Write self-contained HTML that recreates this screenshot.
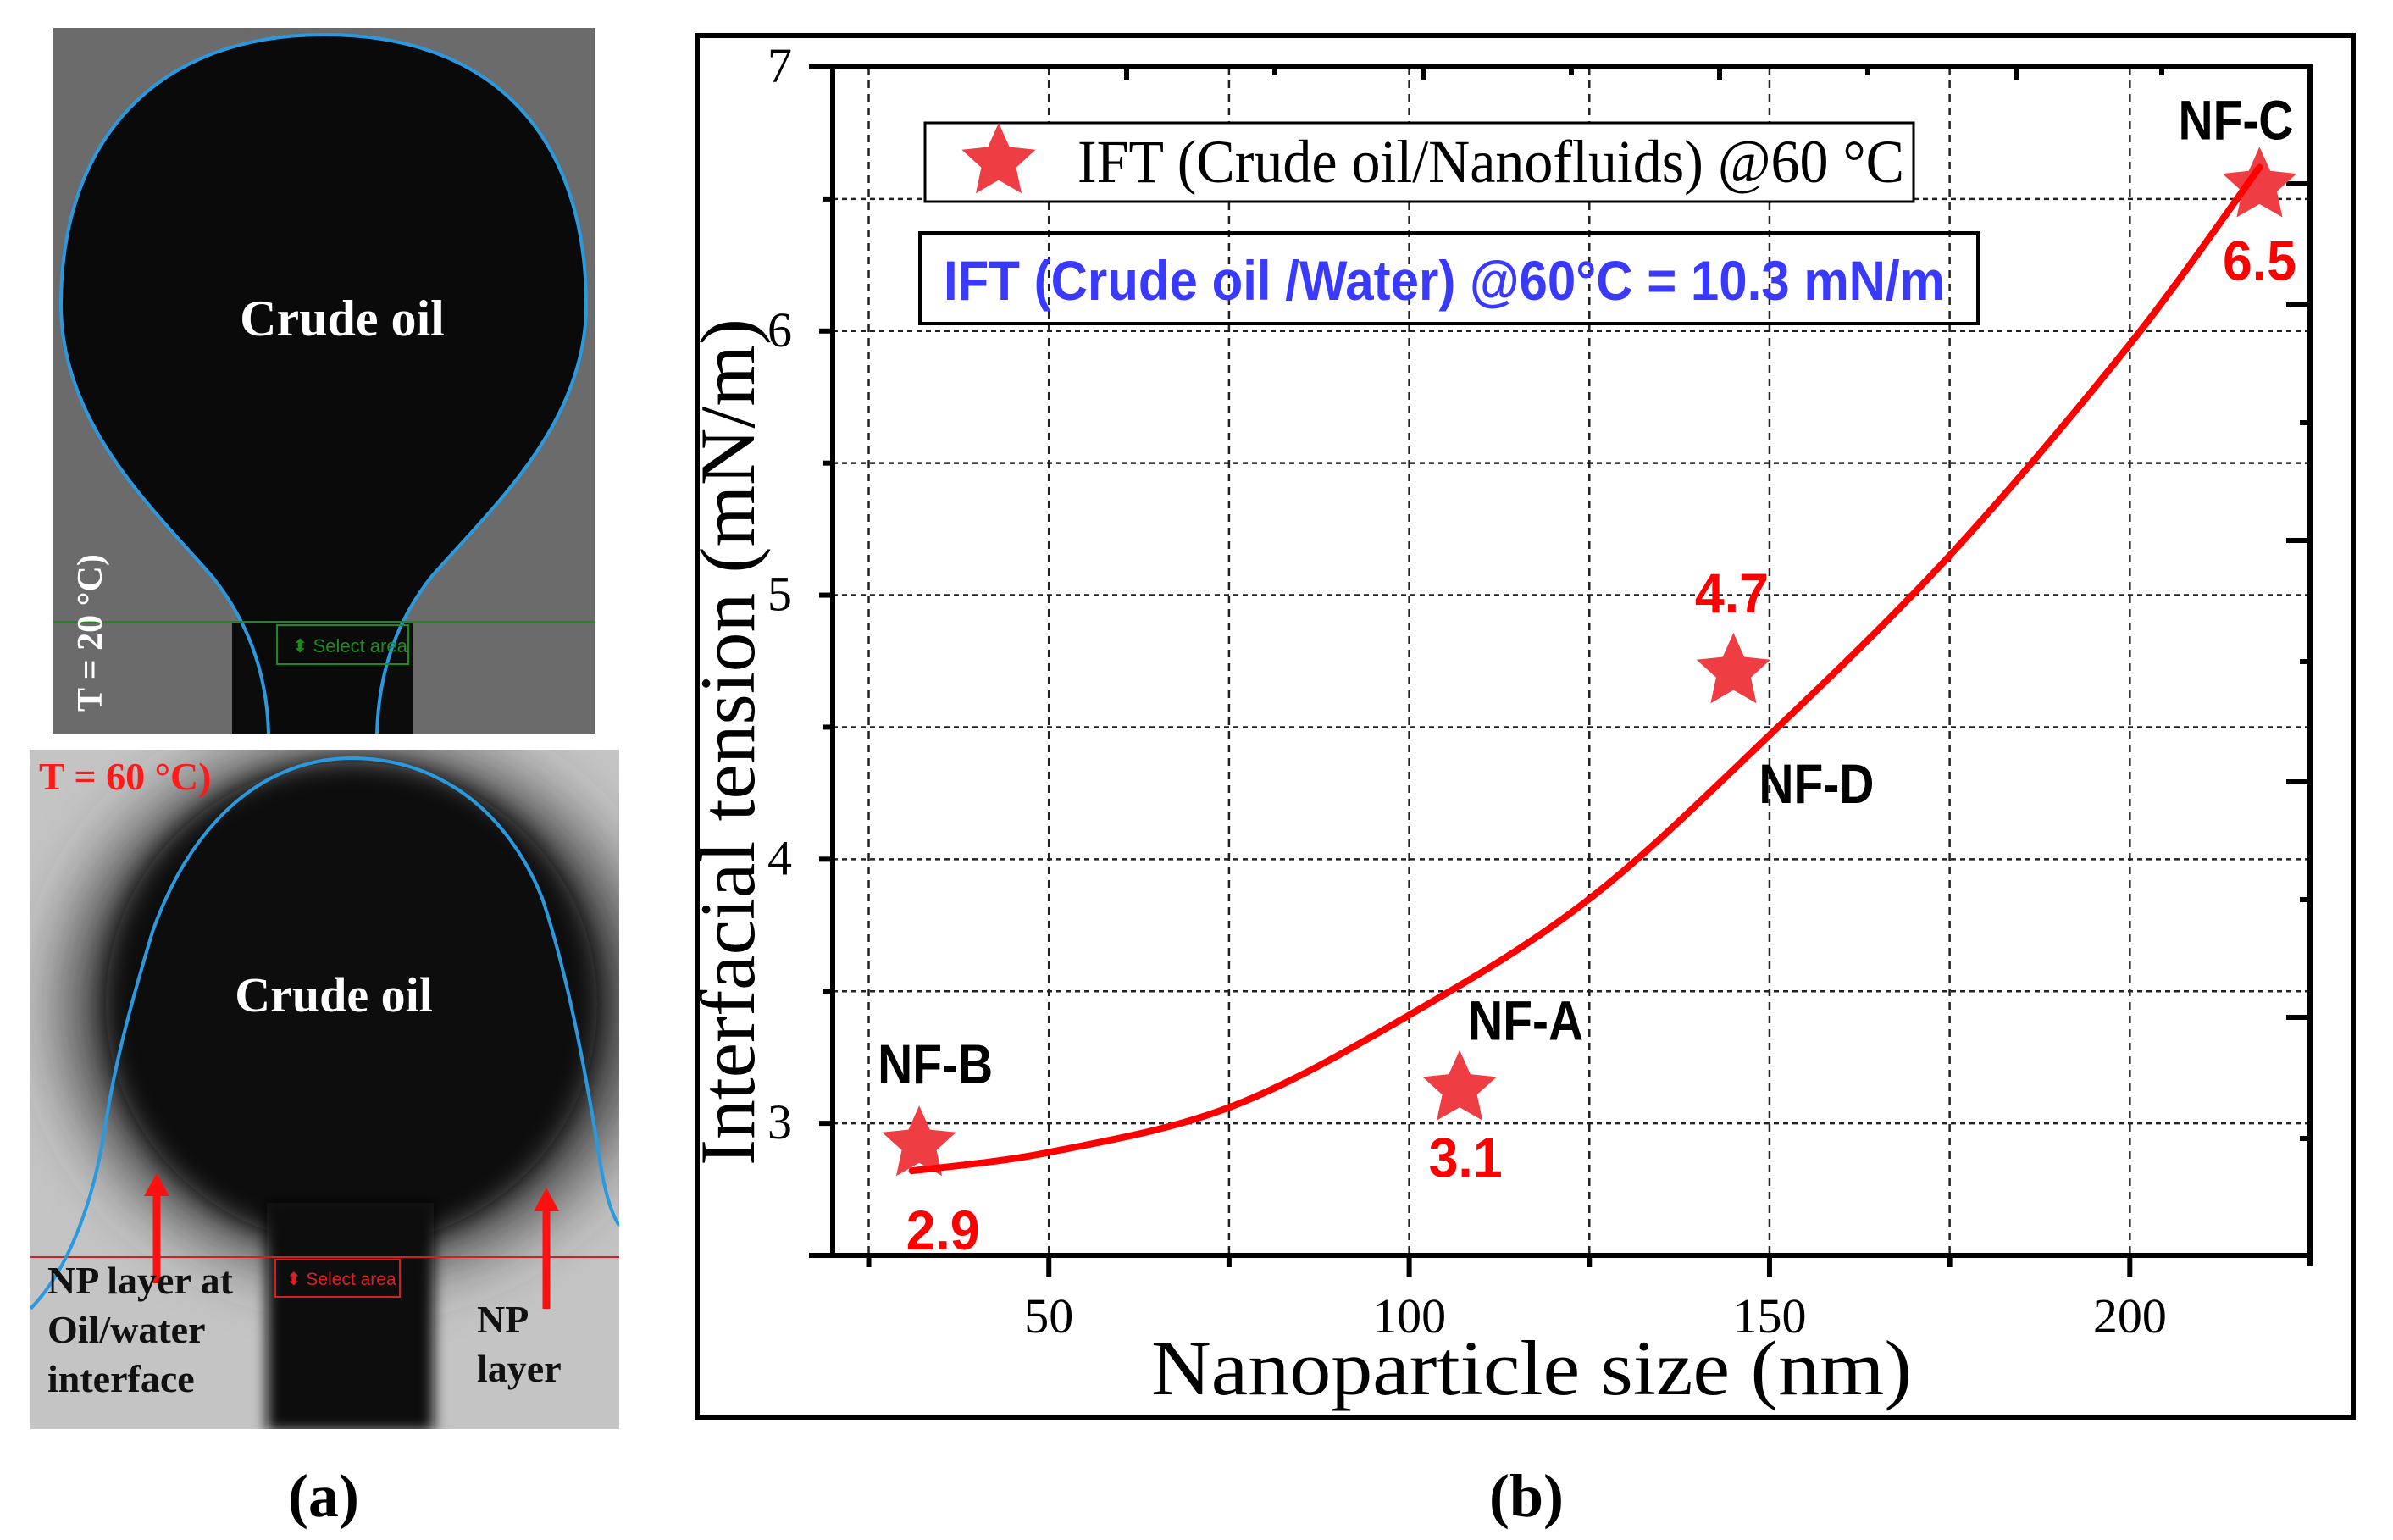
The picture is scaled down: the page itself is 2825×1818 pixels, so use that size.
<!DOCTYPE html>
<html><head><meta charset="utf-8"><style>
html,body{margin:0;padding:0;background:#fff;}
svg{display:block;}
.ser{font-family:"Liberation Serif",serif;}
.san{font-family:"Liberation Sans",sans-serif;}
</style></head><body>
<svg id="root" width="2825" height="1818" viewBox="0 0 2825 1818" xmlns="http://www.w3.org/2000/svg">
<defs>
  <filter id="blur8" x="-50%" y="-50%" width="200%" height="200%"><feGaussianBlur stdDeviation="8"/></filter>
  <filter id="blur40" x="-50%" y="-50%" width="200%" height="200%"><feGaussianBlur stdDeviation="40"/></filter>
  <filter id="blur15" x="-50%" y="-50%" width="200%" height="200%"><feGaussianBlur stdDeviation="15"/></filter>
  <clipPath id="clipTop"><rect x="63" y="33" width="640" height="833"/></clipPath>
  <clipPath id="clipBot"><rect x="36" y="885" width="695" height="802"/></clipPath>
</defs>

<!-- ===== Panel (a) top image ===== -->
<g clip-path="url(#clipTop)">
  <rect x="63" y="33" width="640" height="833" fill="#6b6b6b"/>
  <rect x="274" y="734" width="214" height="140" fill="#0c0c0c"/>
  <path d="M383,41 C180,41 72,170 72,360 C72,500 180,600 250,680 C290,730 315,790 317,866 L445,866 C447,790 470,730 510,680 C580,600 692,500 692,360 C692,170 590,41 383,41 Z" fill="#0a0a0a"/>
  <path d="M317,866 C315,790 290,730 250,680 C180,600 72,500 72,360 C72,170 180,41 383,41 C590,41 692,170 692,360 C692,500 580,600 510,680 C470,730 447,790 445,866" fill="none" stroke="#2a9ae0" stroke-width="4"/>
  <line x1="63" y1="734" x2="703" y2="734" stroke="#1d8a1d" stroke-width="2"/>
  <rect x="327" y="738" width="155" height="46" fill="none" stroke="#1d8a1d" stroke-width="2"/>
  <text x="345" y="770" class="san" font-size="22" fill="#1d8a1d">⬍ Select area</text>
  <text x="404" y="396" text-anchor="middle" class="ser" font-weight="bold" font-size="60" fill="#fff">Crude oil</text>
  <text transform="translate(120,840) rotate(-90)" class="ser" font-weight="bold" font-size="42" fill="#fff">T = 20 °C)</text>
</g>

<!-- ===== Panel (a) bottom image ===== -->
<g clip-path="url(#clipBot)">
  <rect x="36" y="885" width="695" height="802" fill="#c4c4c4"/>
  <ellipse cx="420" cy="1190" rx="340" ry="310" fill="#3a3a3a" filter="url(#blur40)"/>
  <ellipse cx="415" cy="1185" rx="290" ry="285" fill="#0e0e0e" filter="url(#blur15)"/>
  <rect x="315" y="1420" width="197" height="270" fill="#111" filter="url(#blur8)"/>
  <line x1="36" y1="1484" x2="731" y2="1484" stroke="#d02020" stroke-width="2"/>
  <rect x="325" y="1487" width="147" height="44" fill="none" stroke="#d02020" stroke-width="2"/>
  <text x="338" y="1517" class="san" font-size="21" fill="#e02020">⬍ Select area</text>
  <path d="M36,1545 C80,1500 110,1420 123,1336 C135,1260 150,1200 180,1100 C230,960 320,895 415,895 C520,895 600,960 640,1060 C670,1150 690,1260 705,1350 C712,1400 720,1430 731,1447" fill="none" stroke="#2a9ae0" stroke-width="4"/>
  <text x="46" y="932" class="ser" font-weight="bold" font-size="46" fill="#ff1a1a">T = 60 °C)</text>
  <text x="394" y="1194" text-anchor="middle" class="ser" font-weight="bold" font-size="58" fill="#fff">Crude oil</text>
  <line x1="185" y1="1515" x2="185" y2="1410" stroke="#ff1010" stroke-width="9"/>
  <path d="M170,1412 L185,1385 L200,1412 Z" fill="#ff1010"/>
  <line x1="645" y1="1545" x2="645" y2="1428" stroke="#ff1010" stroke-width="9"/>
  <path d="M630,1430 L645,1402 L660,1430 Z" fill="#ff1010"/>
  <g class="ser" font-weight="bold" font-size="46" fill="#111">
    <text x="56" y="1527">NP layer at</text>
    <text x="56" y="1585">Oil/water</text>
    <text x="56" y="1643">interface</text>
  </g>
  <g class="ser" font-weight="bold" font-size="46" fill="#111">
    <text x="563" y="1573">NP</text>
    <text x="563" y="1631">layer</text>
  </g>
</g>
<text x="382" y="1790" text-anchor="middle" class="ser" font-weight="bold" font-size="72" fill="#000">(a)</text>

<!-- ===== Panel (b) ===== -->
<rect x="823" y="42" width="1955" height="1631" fill="#fff" stroke="#000" stroke-width="6"/>
<g id="chart"></g>
<text x="1802" y="1790" text-anchor="middle" class="ser" font-weight="bold" font-size="72" fill="#000">(b)</text>
</svg>

<script>
// ---- data ----
const sampleNames = ["NF-B", "NF-A", "NF-D", "NF-C"];
const sizeNm = [32, 107, 145, 218];
const iftValues = [2.92, 3.13, 4.71, 6.55];
const valueLabels = ["2.9", "3.1", "4.7", "6.5"];
const fitX = [31, 50, 75, 100, 125, 150, 175, 200, 218];
const fitY = [2.82, 2.89, 3.06, 3.41, 3.85, 4.47, 5.15, 5.95, 6.62];
const xTicks = [50, 100, 150, 200];
const xMinorTicks = [25, 75, 125, 175];
const yTicks = [3, 4, 5, 6, 7];
const xGrid = [25, 50, 75, 100, 125, 150, 175, 200];
const yGrid = [3, 3.5, 4, 4.5, 5, 5.5, 6, 6.5];

// ---- scales ----
const X0 = 20, X1 = 225, Y0 = 2.5, Y1 = 7;
const PL = 983, PR = 2727, PT = 79, PB = 1482;
const sx = v => PL + (v - X0) / (X1 - X0) * (PR - PL);
const sy = v => PB - (v - Y0) / (Y1 - Y0) * (PB - PT);

const NS = "http://www.w3.org/2000/svg";
const chart = document.getElementById("chart");
function mk(tag, attrs, parent) {
  const e = document.createElementNS(NS, tag);
  for (const k in attrs) e.setAttribute(k, attrs[k]);
  (parent || chart).appendChild(e);
  return e;
}
function starPath(cx, cy, R) {
  const r = R * 0.47; let d = "";
  for (let i = 0; i < 10; i++) {
    const a = -Math.PI / 2 + i * Math.PI / 5;
    const rr = i % 2 ? r : R;
    d += (i ? "L" : "M") + (cx + rr * Math.cos(a)).toFixed(1) + "," + (cy + rr * Math.sin(a)).toFixed(1);
  }
  return d + "Z";
}

// grid
const grid = mk("g", {});


xGrid.forEach(v => {
  const l = mk("line", {x1: sx(v), x2: sx(v), y1: PT, y2: PB, stroke: "#222", "stroke-width": 2.5, "stroke-dasharray": "9,7"}, grid);
  
  
});
yGrid.forEach(v => {
  const l = mk("line", {x1: PL, x2: PR, y1: sy(v), y2: sy(v), stroke: "#222", "stroke-width": 2.5, "stroke-dasharray": "6,5"}, grid);
  
  
});

// legend box 1 (white fill)
const lg = mk("g", {});


mk("rect", {x: 1092, y: 145, width: 1167, height: 93, fill: "#fff", stroke: "#000", "stroke-width": 3}, lg);
const ls = mk("path", {d: starPath(1179, 191, 46), fill: "#ee3e44"}, lg);


const lt = mk("text", {x: 1272, y: 215, class: "ser", "font-size": 72, fill: "#000", textLength: 976, lengthAdjust: "spacingAndGlyphs"}, lg);
lt.textContent = "IFT (Crude oil/Nanofluids) @60 °C";



// annotation box 2
const ab = mk("g", {});


mk("rect", {x: 1086, y: 275, width: 1249, height: 107, fill: "none", stroke: "#000", "stroke-width": 4}, ab);
const at = mk("text", {x: 1114, y: 354, class: "san", "font-weight": "bold", "font-size": 66, fill: "#3a3aff", textLength: 1182, lengthAdjust: "spacingAndGlyphs"}, ab);
at.textContent = "IFT (Crude oil /Water) @60°C = 10.3 mN/m";

// axes
const ax = mk("g", {stroke: "#000", "stroke-width": 6});


mk("line", {x1: PL, y1: PT - 3, x2: PL, y2: PB + 3}, ax);
mk("line", {x1: 955, y1: PB, x2: PR + 3, y2: PB}, ax);
mk("line", {x1: 955, y1: PT, x2: PR + 3, y2: PT}, ax);
mk("line", {x1: PR, y1: PT - 3, x2: PR, y2: PB + 12}, ax);
xTicks.forEach(v => mk("line", {x1: sx(v), x2: sx(v), y1: PB, y2: PB + 26}, ax));
xMinorTicks.forEach(v => mk("line", {x1: sx(v), x2: sx(v), y1: PB, y2: PB + 14}, ax));
yTicks.forEach(v => mk("line", {x1: PL - 16, x2: PL, y1: sy(v), y2: sy(v)}, ax));
[3.5, 4.5, 5.5, 6.5].forEach(v => mk("line", {x1: PL - 12, x2: PL, y1: sy(v), y2: sy(v)}, ax));
[1330, 1505, 1680, 1855, 2030, 2205, 2380, 2552].forEach((x, i) => mk("line", {x1: x, x2: x, y1: PT, y2: PT + (i % 2 ? 10 : 16)}, ax));
[217, 360, 499, 638, 781, 923, 1062, 1201, 1344].forEach((y, i) => mk("line", {x1: PR - ([0,1,3,5,7].includes(i) ? 28 : 12), x2: PR, y1: y, y2: y}, ax));

// tick labels
xTicks.forEach(v => {
  const t = mk("text", {x: sx(v), y: 1573, "text-anchor": "middle", class: "ser", "font-size": 58, fill: "#000"});
  t.textContent = v;
  
  
});
yTicks.forEach(v => {
  const t = mk("text", {x: 935, y: sy(v) + 18, "text-anchor": "end", class: "ser", "font-size": 58, fill: "#000"});
  t.textContent = v;
  
  
});

// axis titles
const xt = mk("text", {x: 1808, y: 1646, "text-anchor": "middle", class: "ser", "font-size": 92, fill: "#000", textLength: 898, lengthAdjust: "spacingAndGlyphs"});
xt.textContent = "Nanoparticle size (nm)";


const yt = mk("text", {transform: "translate(890,876) rotate(-90)", "text-anchor": "middle", class: "ser", "font-size": 92, fill: "#000", textLength: 1000, lengthAdjust: "spacingAndGlyphs"});
yt.textContent = "Interfacial tension (mN/m)";



// fit curve (Catmull-Rom -> cubic bezier)
const pts = fitX.map((x, i) => [sx(x), sy(fitY[i])]);
let d = "M" + pts[0][0].toFixed(1) + "," + pts[0][1].toFixed(1);
for (let i = 0; i < pts.length - 1; i++) {
  const p0 = pts[Math.max(0, i - 1)], p1 = pts[i], p2 = pts[i + 1], p3 = pts[Math.min(pts.length - 1, i + 2)];
  const c1 = [p1[0] + (p2[0] - p0[0]) / 6, p1[1] + (p2[1] - p0[1]) / 6];
  const c2 = [p2[0] - (p3[0] - p1[0]) / 6, p2[1] - (p3[1] - p1[1]) / 6];
  d += "C" + c1.map(n => n.toFixed(1)).join(",") + " " + c2.map(n => n.toFixed(1)).join(",") + " " + p2.map(n => n.toFixed(1)).join(",");
}

// stars
sizeNm.forEach((x, i) => {
  const s = mk("path", {d: starPath(sx(x), sy(iftValues[i]), 46), fill: "#ee3e44"});
  
  
});
const fc = mk("path", {d: d, fill: "none", stroke: "#ff0000", "stroke-width": 8, "stroke-linecap": "round"});



// point labels (offsets relative to star)
const nameOff = [[19, -72], [78, -58], [98, 155], [-28, -55]];
const valOff = [[28, 124], [7, 104], [-2, -70], [0, 111]];
sizeNm.forEach((x, i) => {
  const cx = sx(x), cy = sy(iftValues[i]);
  const n = mk("text", {x: cx + nameOff[i][0], y: cy + nameOff[i][1], "text-anchor": "middle", class: "san", "font-weight": "bold", "font-size": 66, fill: "#000", textLength: 136, lengthAdjust: "spacingAndGlyphs"});
  n.textContent = sampleNames[i];
  
  
  const v = mk("text", {x: cx + valOff[i][0], y: cy + valOff[i][1], "text-anchor": "middle", class: "san", "font-weight": "bold", "font-size": 66, fill: "#ff0000", textLength: 87, lengthAdjust: "spacingAndGlyphs"});
  v.textContent = valueLabels[i];
  
  
});
</script>
</body></html>
